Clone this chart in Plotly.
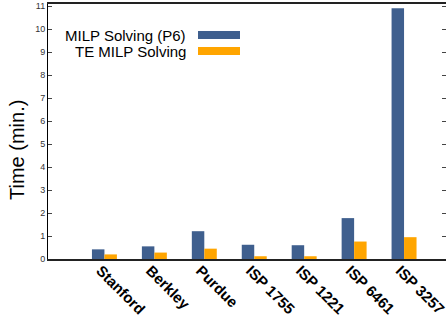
import plotly.graph_objects as go

categories = ["Stanford", "Berkley", "Purdue", "ISP 1755", "ISP 1221", "ISP 6461", "ISP 3257"]
milp_p6 = [0.42, 0.55, 1.21, 0.62, 0.60, 1.78, 10.92]
te_milp = [0.20, 0.28, 0.45, 0.12, 0.12, 0.76, 0.95]
series_names = ["MILP Solving (P6)", "TE MILP Solving"]
y_ticks = list(range(0, 12))
y_title = "Time (min.)"

BLUE = "#3f5f8e"
ORANGE = "#ffa500"
FONT = "Liberation Sans, Arial, Helvetica, sans-serif"

fig = go.Figure()
fig.add_trace(go.Bar(x=categories, y=milp_p6, name=series_names[0],
                     marker=dict(color=BLUE, line=dict(width=0)), showlegend=False))
fig.add_trace(go.Bar(x=categories, y=te_milp, name=series_names[1],
                     marker=dict(color=ORANGE, line=dict(width=0)), showlegend=False))

W, H = 446, 318
ml, mr, mt, mb = 48, 0, 4, 59
pw, ph = W - ml - mr, H - mt - mb

def px_x(x):
    return (x - ml) / pw

def px_y(y):
    return (H - mb - y) / ph

# manual legend: text on the left, swatch on the right
legend_rows = [(series_names[0], BLUE, 35), (series_names[1], ORANGE, 51)]
for name, col, yc in legend_rows:
    fig.add_annotation(text=name, x=px_x(188), y=px_y(yc), xref="paper", yref="paper",
                       xanchor="right", yanchor="middle", showarrow=False,
                       font=dict(size=15, color="#000", family=FONT))
    fig.add_shape(type="rect", xref="paper", yref="paper",
                  x0=px_x(198), x1=px_x(240), y0=px_y(yc - 4), y1=px_y(yc + 4),
                  fillcolor=col, line=dict(width=0))

# y axis title
fig.add_annotation(text=y_title, x=px_x(17), y=px_y(150), xref="paper", yref="paper",
                   xanchor="center", yanchor="middle", showarrow=False, textangle=-90,
                   font=dict(size=20, color="#000", family=FONT))

fig.update_layout(
    width=W, height=H,
    margin=dict(l=ml, r=mr, t=mt, b=mb, pad=0, autoexpand=False),
    paper_bgcolor="white", plot_bgcolor="white",
    barmode="group", bargap=0.5, bargroupgap=0,
    font=dict(family=FONT, color="#000"),
    showlegend=False,
)
fig.update_xaxes(
    type="category", range=[-1.13, 6.84], automargin=False,
    showline=True, linecolor="#222", linewidth=2, mirror=True,
    ticks="", showgrid=False, zeroline=False,
    tickangle=45, tickfont=dict(size=15, color="#000", family=FONT, weight="bold"),
    ticklabelstandoff=-5, ticklabelshift=-4,
)
fig.update_yaxes(
    range=[0, 11.1], tickvals=y_ticks, automargin=False,
    showline=True, linecolor="#000", linewidth=1, mirror="ticks",
    ticks="inside", ticklen=4, tickcolor="#444", tickwidth=1,
    showgrid=False, zeroline=False,
    tickfont=dict(size=9, color="#333"),
)

fig.write_html("out.html", config={"displayModeBar": False},
               post_script="document.body.style.margin='0';document.body.style.overflow='hidden';")
